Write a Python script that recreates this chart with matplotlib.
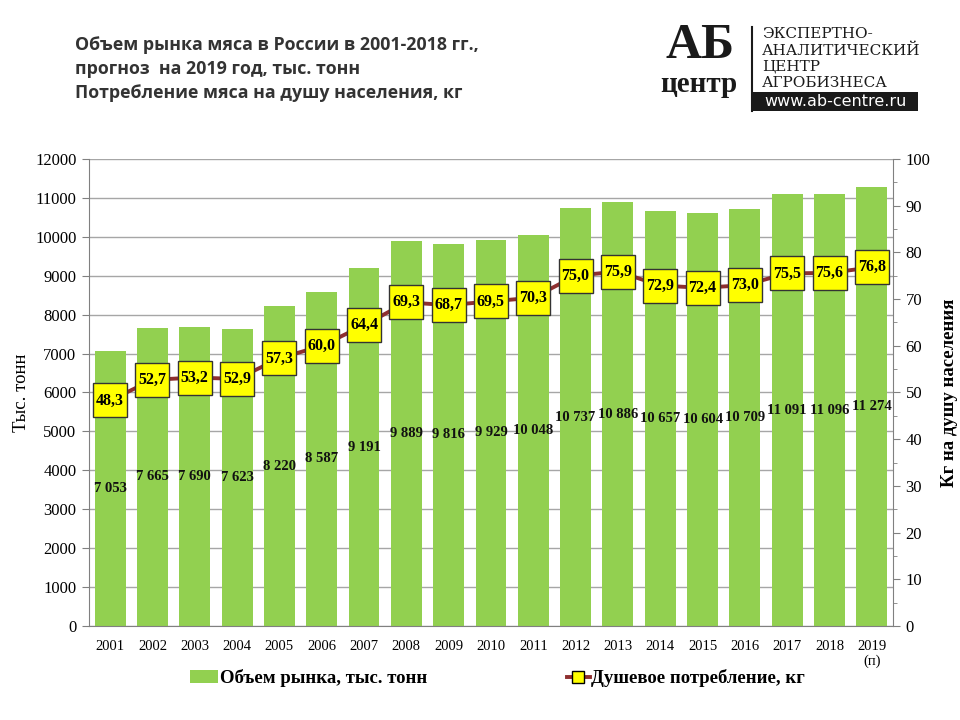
import matplotlib
matplotlib.use("Agg")
import matplotlib.pyplot as plt
from matplotlib.lines import Line2D
from matplotlib.patches import Patch, Rectangle
from matplotlib.ticker import MultipleLocator

years = ["2001", "2002", "2003", "2004", "2005", "2006", "2007", "2008", "2009", "2010",
         "2011", "2012", "2013", "2014", "2015", "2016", "2017", "2018", "2019\n(п)"]
market = [7053, 7665, 7690, 7623, 8220, 8587, 9191, 9889, 9816, 9929,
          10048, 10737, 10886, 10657, 10604, 10709, 11091, 11096, 11274]
per_capita = [48.3, 52.7, 53.2, 52.9, 57.3, 60.0, 64.4, 69.3, 68.7, 69.5,
              70.3, 75.0, 75.9, 72.9, 72.4, 73.0, 75.5, 75.6, 76.8]

SERIF = "Liberation Serif"
BAR_C = "#92D050"
LINE_C = "#8E2F2F"

def fmt_int(v):
    return f"{v:,}".replace(",", " ")

def fmt_dec(v):
    return f"{v:.1f}".replace(".", ",")

fig = plt.figure(figsize=(9.6, 7.2), dpi=100)
ax = fig.add_axes([0.0927, 0.1306, 0.8375, 0.6486])
x = list(range(len(years)))

ax.set_axisbelow(True)
ax.yaxis.grid(True, color="#A6A6A6", linewidth=1)
ax.bar(x, market, width=0.73, color=BAR_C, zorder=2)
for xi, v in zip(x, market):
    ax.text(xi, v / 2, fmt_int(v), ha="center", va="center", family=SERIF,
            fontweight="bold", fontsize=10.5, color="#111111", zorder=5)

ax.set_xlim(-0.5, len(years) - 0.5)
ax.set_ylim(0, 12000)
ax.yaxis.set_major_locator(MultipleLocator(1000))
ax.set_xticks(x)
ax.set_xticklabels(years, family=SERIF, fontsize=10.5)
ax.tick_params(axis="x", length=0, pad=10)
ax.tick_params(axis="y", direction="out", length=5, color="#808080", pad=4)
for lab in ax.get_yticklabels():
    lab.set_family(SERIF)
    lab.set_fontsize(12)
for s in ["top", "right"]:
    ax.spines[s].set_visible(False)
for s in ["left", "bottom"]:
    ax.spines[s].set_color("#808080")
ax.set_ylabel("Тыс. тонн", family=SERIF, fontsize=13.5, labelpad=4)

ax2 = ax.twinx()
ax2.set_ylim(0, 100)
ax2.yaxis.set_major_locator(MultipleLocator(10))
ax2.yaxis.set_minor_locator(MultipleLocator(5))
ax2.plot(x, per_capita, color=LINE_C, linewidth=2.8, marker="s", markersize=24,
         markerfacecolor="#FFFF00", markeredgecolor="#333333", markeredgewidth=1,
         zorder=3)
for xi, v in zip(x, per_capita):
    ax2.text(xi, v, fmt_dec(v), ha="center", va="center", family=SERIF,
             fontweight="bold", fontsize=11.5, color="black", zorder=6)
ax2.tick_params(axis="y", which="major", direction="out", length=5, color="#808080", pad=4)
ax2.tick_params(axis="y", which="minor", direction="out", length=3, color="#808080")
for lab in ax2.get_yticklabels():
    lab.set_family(SERIF)
    lab.set_fontsize(12)
for s in ["top", "left", "bottom"]:
    ax2.spines[s].set_visible(False)
ax2.spines["right"].set_color("#808080")
ax2.set_ylabel("Кг на душу населения", family=SERIF, fontsize=13.5,
               fontweight="bold", labelpad=8)

bar_handle = Patch(facecolor=BAR_C, edgecolor="none")
line_handle = Line2D([0], [0], color=LINE_C, linewidth=2.8, marker="s", markersize=9,
                     markerfacecolor="#FFFF00", markeredgecolor="black")
fig.legend([bar_handle], ["Объем рынка, тыс. тонн"], loc="center left",
           bbox_to_anchor=(190 / 960, 0.058), frameon=False, handlelength=1.5,
           handletextpad=0.1, borderpad=0, borderaxespad=0,
           prop=dict(family=SERIF, weight="bold", size=13.5))
fig.legend([line_handle], ["Душевое потребление, кг"], loc="center left",
           bbox_to_anchor=(567 / 960, 0.058), frameon=False, handlelength=1.2,
           handletextpad=0.1, borderpad=0, borderaxespad=0,
           prop=dict(family=SERIF, weight="bold", size=13.5))

# Title
title_lines = ["Объем рынка мяса в России в 2001-2018 гг.,",
               "прогноз  на 2019 год, тыс. тонн",
               "Потребление мяса на душу населения, кг"]
for i, t in enumerate(title_lines):
    fig.text(75 / 960, 1 - (45 + 24 * i) / 720, t, ha="left", va="center",
             family="Open Sans", fontweight="bold", fontsize=12.8, color="#333333")

# Logo
fig.text(700 / 960, 1 - 46 / 720, "АБ", ha="center", va="center", family=SERIF,
         fontweight="bold", fontsize=36, color="#1a1a1a")
fig.text(699 / 960, 1 - 84 / 720, "центр", ha="center", va="center", family=SERIF,
         fontweight="bold", fontsize=21, color="#1a1a1a")
fig.add_artist(Line2D([752 / 960, 752 / 960], [1 - 27 / 720, 1 - 111 / 720],
                      color="#1a1a1a", linewidth=1.5))
logo_lines = ["ЭКСПЕРТНО-", "АНАЛИТИЧЕСКИЙ", "ЦЕНТР", "АГРОБИЗНЕСА"]
for i, t in enumerate(logo_lines):
    fig.text(762 / 960, 1 - (34 + 16.3 * i) / 720, t, ha="left", va="center",
             family="DejaVu Serif", fontsize=11, color="#1a1a1a")
fig.add_artist(Rectangle((752 / 960, 1 - 111 / 720), 166 / 960, 19 / 720,
                         transform=fig.transFigure, facecolor="#1a1a1a",
                         edgecolor="none"))
fig.text(836 / 960, 1 - 101.5 / 720, "www.ab-centre.ru", ha="center", va="center",
         family="DejaVu Sans", fontsize=11.5, color="white")

fig.savefig("out.png", dpi=100)
